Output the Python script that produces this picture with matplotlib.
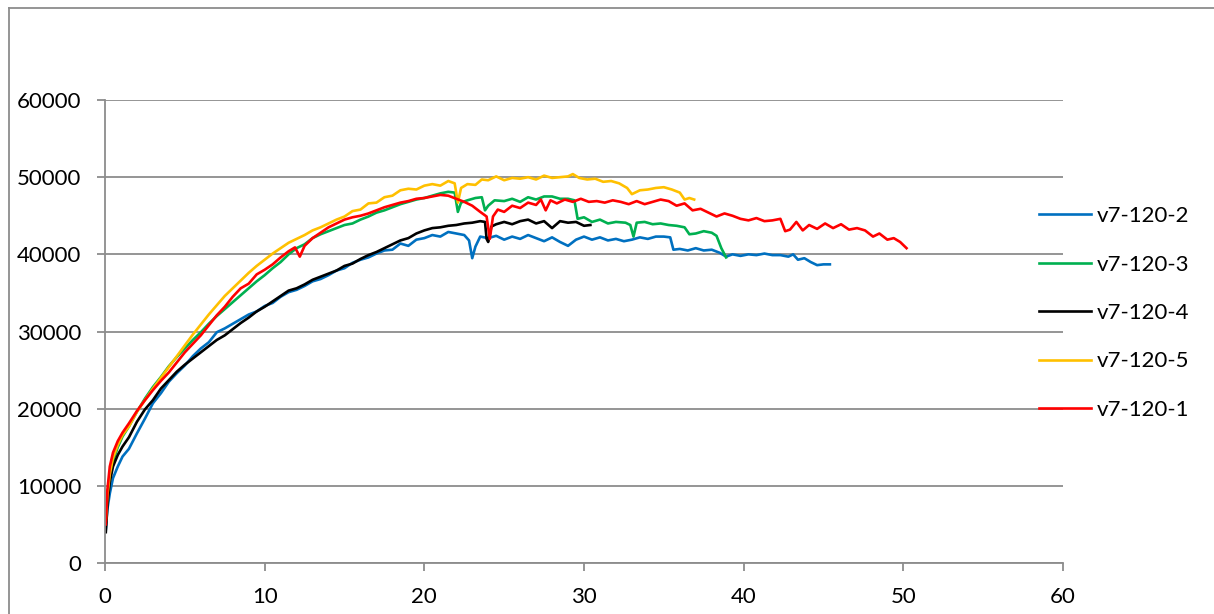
"""Load-time curves for the v7-120 specimens, Excel-style line chart."""
import matplotlib
matplotlib.use("Agg")
import matplotlib.pyplot as plt
from matplotlib.lines import Line2D

plt.rcParams["font.family"] = ["Lato", "DejaVu Sans"]

LABELS = ["v7-120-2", "v7-120-3", "v7-120-4", "v7-120-5", "v7-120-1"]
COLORS = ["#0070C0", "#00B050", "#000000", "#FFC000", "#FF0000"]

x_2 = [0.05, 0.15, 0.3, 0.5, 0.8, 1.1, 1.5, 2.0, 2.5, 3.0, 3.5, 4.0, 4.5, 5.0, 5.5,
       6.0, 6.5, 7.0, 7.5, 8.0, 8.5, 9.0, 9.5, 10.0, 10.5, 11.0, 11.5, 12.0, 12.5,
       13.0, 13.5, 14.0, 14.5, 15.0, 15.5, 16.0, 16.5, 17.0, 17.5, 18.0, 18.5, 19.0,
       19.5, 20.0, 20.5, 21.0, 21.5, 22.0, 22.5, 22.8, 23.0, 23.2, 23.5, 24.0, 24.5,
       25.0, 25.5, 26.0, 26.5, 27.0, 27.5, 28.0, 28.5, 29.0, 29.5, 30.0, 30.5, 31.0,
       31.5, 32.0, 32.5, 33.0, 33.5, 34.0, 34.5, 35.0, 35.4, 35.6, 36.0, 36.5, 37.0,
       37.5, 38.0, 38.5, 38.9, 39.3, 39.8, 40.3, 40.8, 41.3, 41.8, 42.3, 42.8, 43.1,
       43.4, 43.8, 44.2, 44.6, 45.0, 45.4]
y_2 = [4300, 7000, 9000, 11000, 12500, 13800, 14800, 16800, 18700, 20700, 22000, 23500,
       24600, 25600, 26800, 27800, 28600, 29900, 30400, 31000, 31600, 32200, 32600,
       33300, 33700, 34500, 35100, 35400, 35900, 36500, 36800, 37300, 37900, 38200,
       38900, 39300, 39600, 40100, 40500, 40600, 41400, 41100, 41900, 42100, 42500,
       42300, 42900, 42700, 42500, 41800, 39500, 41000, 42300, 42100, 42400, 41900,
       42300, 42000, 42500, 42100, 41700, 42200, 41600, 41100, 41900, 42300, 41900,
       42200, 41800, 42000, 41700, 41900, 42200, 42000, 42300, 42300, 42200, 40600,
       40700, 40500, 40800, 40500, 40600, 40200, 39700, 40000, 39800, 40000, 39900,
       40100, 39900, 39900, 39700, 40000, 39300, 39500, 39000, 38600, 38700, 38700]

x_3 = [0.05, 0.15, 0.3, 0.5, 0.8, 1.1, 1.5, 2.0, 2.5, 3.0, 3.5, 4.0, 4.5, 5.0, 5.5,
       6.0, 6.5, 7.0, 7.5, 8.0, 8.5, 9.0, 9.5, 10.0, 10.5, 11.0, 11.5, 12.0, 12.5,
       13.0, 13.5, 14.0, 14.5, 15.0, 15.5, 16.0, 16.5, 17.0, 17.5, 18.0, 18.5, 19.0,
       19.5, 20.0, 20.5, 21.0, 21.5, 21.9, 22.1, 22.3, 22.7, 23.2, 23.6, 23.8, 24.0,
       24.4, 25.0, 25.5, 26.0, 26.5, 27.0, 27.5, 28.0, 28.5, 29.0, 29.4, 29.6, 30.0,
       30.5, 31.0, 31.5, 32.0, 32.6, 32.9, 33.1, 33.3, 33.8, 34.3, 34.8, 35.3, 35.8,
       36.3, 36.6, 37.0, 37.5, 38.0, 38.3, 38.6, 38.9]
y_3 = [5000, 8500, 11000, 13200, 15000, 16400, 17700, 19600, 21300, 22800, 24100, 25500,
       26700, 27800, 28900, 29900, 31000, 32000, 32900, 33800, 34700, 35600, 36500,
       37300, 38200, 39000, 40000, 40800, 41300, 42100, 42600, 43000, 43400, 43800,
       44000, 44500, 44900, 45400, 45700, 46100, 46500, 46800, 47100, 47300, 47600,
       47900, 48100, 48000, 45500, 46700, 47000, 47300, 47400, 45700, 46300, 47000,
       46900, 47200, 46800, 47400, 47100, 47500, 47500, 47200, 47200, 47000, 44600,
       44800, 44200, 44500, 44000, 44200, 44100, 43800, 42300, 44100, 44200, 43900,
       44000, 43800, 43700, 43500, 42600, 42700, 43000, 42800, 42400, 40800, 39600]

x_4 = [0.05, 0.15, 0.3, 0.5, 0.8, 1.1, 1.5, 2.0, 2.5, 3.0, 3.5, 4.0, 4.5, 5.0, 5.5,
       6.0, 6.5, 7.0, 7.5, 8.0, 8.5, 9.0, 9.5, 10.0, 10.5, 11.0, 11.5, 12.0, 12.5,
       13.0, 13.5, 14.0, 14.5, 15.0, 15.5, 16.0, 16.5, 17.0, 17.5, 18.0, 18.5, 19.0,
       19.5, 20.0, 20.5, 21.0, 21.5, 22.0, 22.5, 23.0, 23.5, 23.8, 23.9, 24.0, 24.2,
       24.5, 25.0, 25.5, 26.0, 26.5, 27.0, 27.5, 28.0, 28.5, 29.0, 29.5, 30.0, 30.4]
y_4 = [4000, 7500, 10500, 12500, 14000, 15100, 16300, 18300, 19900, 21100, 22600, 23700,
       24800, 25700, 26500, 27300, 28100, 28900, 29500, 30300, 31100, 31800, 32600,
       33200, 33900, 34600, 35300, 35600, 36100, 36700, 37100, 37500, 37900, 38500,
       38800, 39400, 39900, 40300, 40800, 41300, 41800, 42100, 42700, 43100, 43400,
       43500, 43700, 43800, 44000, 44100, 44300, 44200, 42000, 41600, 43600, 43900,
       44200, 43900, 44300, 44500, 44000, 44300, 43400, 44300, 44100, 44200, 43700,
       43800]

x_5 = [0.05, 0.15, 0.3, 0.5, 0.8, 1.1, 1.5, 2.0, 2.5, 3.0, 3.5, 4.0, 4.5, 5.0, 5.5,
       6.0, 6.5, 7.0, 7.5, 8.0, 8.5, 9.0, 9.5, 10.0, 10.5, 11.0, 11.5, 12.0, 12.5,
       13.0, 13.5, 14.0, 14.5, 15.0, 15.5, 16.0, 16.5, 17.0, 17.5, 18.0, 18.5, 19.0,
       19.5, 20.0, 20.5, 21.0, 21.5, 21.9, 22.1, 22.3, 22.7, 23.2, 23.6, 24.0, 24.5,
       25.0, 25.5, 26.0, 26.5, 27.0, 27.5, 28.0, 28.5, 29.0, 29.3, 29.7, 30.2, 30.7,
       31.2, 31.7, 32.2, 32.7, 33.0, 33.5, 34.0, 34.5, 35.0, 35.5, 36.0, 36.3, 36.6,
       36.9]
y_5 = [5500, 8800, 11500, 13600, 15300, 16600, 17700, 19600, 21100, 22600, 24000, 25400,
       26800, 28200, 29600, 30900, 32200, 33400, 34600, 35600, 36600, 37600, 38500,
       39300, 40100, 40800, 41500, 42000, 42500, 43100, 43500, 44000, 44500, 44900,
       45600, 45800, 46600, 46700, 47400, 47600, 48300, 48500, 48400, 48900, 49100,
       48900, 49500, 49200, 46700, 48600, 49100, 49000, 49700, 49600, 50100, 49600,
       49900, 49800, 50000, 49700, 50200, 49900, 50000, 50100, 50400, 49900, 49700,
       49800, 49400, 49500, 49200, 48600, 47800, 48300, 48400, 48600, 48700, 48400,
       48000, 47100, 47300, 47100]

x_1 = [0.05, 0.15, 0.3, 0.5, 0.8, 1.1, 1.5, 2.0, 2.5, 3.0, 3.5, 4.0, 4.5, 5.0, 5.5,
       6.0, 6.5, 7.0, 7.5, 8.0, 8.5, 9.0, 9.5, 10.0, 10.5, 11.0, 11.5, 11.9, 12.2,
       12.5, 13.0, 13.5, 14.0, 14.5, 15.0, 15.5, 16.0, 16.5, 17.0, 17.5, 18.0, 18.5,
       19.0, 19.5, 20.0, 20.5, 21.0, 21.5, 22.0, 22.5, 23.0, 23.5, 23.9, 24.1, 24.3,
       24.6, 25.0, 25.5, 26.0, 26.5, 27.0, 27.3, 27.6, 27.9, 28.3, 28.8, 29.3, 29.8,
       30.3, 30.8, 31.3, 31.8, 32.3, 32.8, 33.3, 33.8, 34.3, 34.8, 35.3, 35.8, 36.3,
       36.8, 37.3, 37.8, 38.3, 38.8, 39.3, 39.8, 40.3, 40.8, 41.3, 41.8, 42.3, 42.6,
       42.9, 43.3, 43.7, 44.1, 44.6, 45.1, 45.6, 46.1, 46.6, 47.1, 47.6, 48.1, 48.5,
       49.0, 49.4, 49.8, 50.2]
y_1 = [5000, 9500, 12500, 14300, 15800, 16900, 18100, 19700, 21100, 22400, 23600, 24700,
       26000, 27300, 28400, 29500, 30800, 32100, 33200, 34500, 35600, 36200, 37400,
       38000, 38700, 39600, 40400, 40900, 39700, 41100, 42100, 42800, 43500, 44000,
       44500, 44800, 45000, 45300, 45700, 46100, 46400, 46700, 46900, 47200, 47300,
       47500, 47700, 47600, 47200, 46800, 46300, 45500, 44900, 42000, 44900, 45800,
       45500, 46300, 46000, 46700, 46400, 47100, 45700, 47000, 46600, 47100, 46800,
       47200, 46800, 46900, 46700, 47000, 46800, 46500, 46900, 46500, 46800, 47100,
       46900, 46300, 46600, 45700, 45900, 45400, 44900, 45300, 45000, 44600, 44400,
       44700, 44300, 44400, 44600, 43000, 43200, 44200, 43100, 43800, 43300, 44000,
       43400, 43900, 43200, 43400, 43100, 42300, 42700, 41900, 42100, 41600, 40800]

SERIES = [(x_2, y_2), (x_3, y_3), (x_4, y_4), (x_5, y_5), (x_1, y_1)]

GRID = "#8c8c8c"

fig = plt.figure(figsize=(12.14, 6.14), dpi=100)
ax = fig.add_axes([105 / 1214, 51 / 614, 958 / 1214, 463 / 614])

for (xs, ys), label, color in zip(SERIES, LABELS, COLORS):
    ax.plot(xs, ys, color=color, linewidth=1.9, label=label)

ax.set_xlim(0, 60)
ax.set_ylim(0, 60000)
ax.set_xticks(range(0, 61, 10))
ax.set_yticks(range(0, 60001, 10000))
ax.grid(True, axis="y", color=GRID, linewidth=1.3)
ax.set_axisbelow(True)
for side in ["top", "right"]:
    ax.spines[side].set_visible(False)
for side in ["left", "bottom"]:
    ax.spines[side].set_color(GRID)
    ax.spines[side].set_linewidth(1.3)
ax.tick_params(direction="out", length=6, width=1.3, color=GRID,
               labelsize=16, pad=11)

ax.legend(loc="center left", bbox_to_anchor=(1039 / 1214, (614 - 313) / 614),
          bbox_transform=fig.transFigure, frameon=False, fontsize=16,
          handlelength=2.35, handletextpad=0.27, labelspacing=1.28,
          borderaxespad=0, borderpad=0)

# chart area frame (cut off at the right and bottom)
fig.add_artist(Line2D([9 / 1214, 9 / 1214], [0, 1 - 8 / 614], color=GRID,
                      linewidth=1.3, transform=fig.transFigure))
fig.add_artist(Line2D([9 / 1214, 1], [1 - 8 / 614, 1 - 8 / 614], color=GRID,
                      linewidth=1.3, transform=fig.transFigure))

fig.savefig("out.png", dpi=100)
